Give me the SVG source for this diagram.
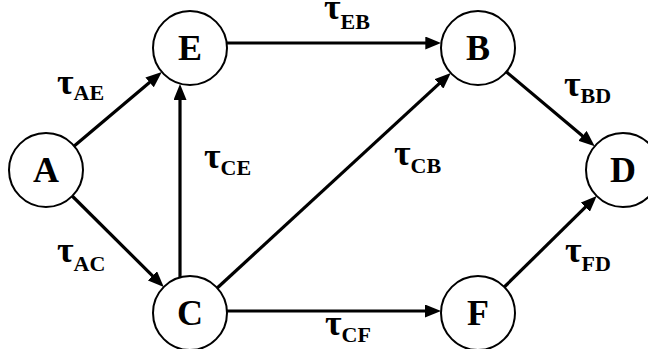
<svg xmlns="http://www.w3.org/2000/svg" width="648" height="349" viewBox="0 0 648 349">
<style>
.node circle{fill:#fff;stroke:#000;stroke-width:2}
.node text{font-family:"Liberation Serif",serif;font-weight:bold;font-size:36px;text-anchor:middle}
.edges line{stroke:#000;stroke-width:3.2;marker-end:url(#ah)}
.lbl{font-family:"Liberation Serif",serif;font-weight:bold;font-size:36px}
.lbl tspan{font-size:22px}
</style>
<defs>
<marker id="ah" markerUnits="userSpaceOnUse" markerWidth="16" markerHeight="13" refX="8" refY="6.5" orient="auto">
<path d="M0,0 L16,6.5 L0,13 z" fill="#000"/>
</marker>
</defs>
<rect width="648" height="349" fill="#fff"/>
<g class="edges">
<line x1="74.2" y1="146" x2="155.7" y2="77.2"/>
<line x1="72.2" y1="196" x2="158.1" y2="281.4"/>
<line x1="180" y1="277" x2="180" y2="92"/>
<line x1="226.7" y1="43" x2="433.3" y2="43"/>
<line x1="226.9" y1="311" x2="433" y2="311"/>
<line x1="217.2" y1="288" x2="444.9" y2="78.4"/>
<line x1="506.3" y1="71.8" x2="588.6" y2="141"/>
<line x1="504.3" y1="287" x2="591" y2="201.6"/>
</g>
<g id="A" class="node"><circle cx="46" cy="170" r="37"/><text x="46" y="182">A</text></g>
<g id="E" class="node"><circle cx="190" cy="48" r="37"/><text x="190" y="60">E</text></g>
<g id="B" class="node"><circle cx="478" cy="48" r="37"/><text x="478" y="60">B</text></g>
<g id="C" class="node"><circle cx="190" cy="313" r="37"/><text x="190" y="325">C</text></g>
<g id="F" class="node"><circle cx="478" cy="313" r="37"/><text x="478" y="325">F</text></g>
<g id="D" class="node"><circle cx="623" cy="170" r="37"/><text x="623" y="182">D</text></g>
<g class="labels">
<text class="lbl" x="57" y="94">τ<tspan dy="6">AE</tspan></text>
<text class="lbl" x="324" y="19">τ<tspan dy="10">EB</tspan></text>
<text class="lbl" x="204" y="168">τ<tspan dy="7">CE</tspan></text>
<text class="lbl" x="394" y="165">τ<tspan dy="8">CB</tspan></text>
<text class="lbl" x="57" y="262">τ<tspan dy="9">AC</tspan></text>
<text class="lbl" x="325" y="335">τ<tspan dy="7">CF</tspan></text>
<text class="lbl" x="565" y="262">τ<tspan dy="9">FD</tspan></text>
<text class="lbl" x="564" y="96">τ<tspan dy="7">BD</tspan></text>
</g>
</svg>
